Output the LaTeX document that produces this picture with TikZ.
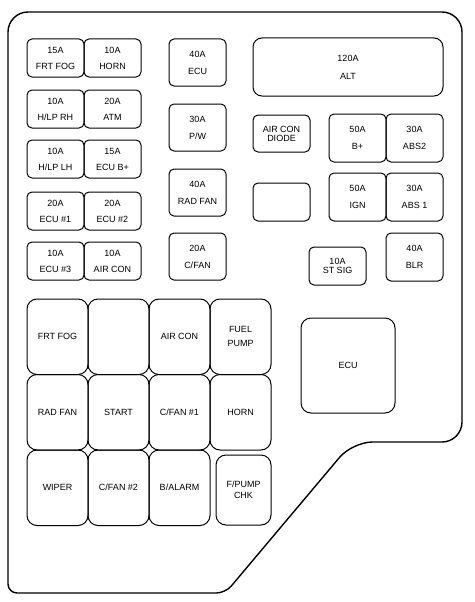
\documentclass[tikz,border=0pt]{standalone}
\usepackage{fontspec}
\setmainfont{Liberation Sans}
\tikzset{
	fuse/.style={draw, line width=1pt, rounded corners=5pt, minimum width=57pt, minimum height=38pt, inner sep=0pt, align=center, font=\fontsize{9}{16}\selectfont},
	tallfuse/.style={fuse, minimum height=47pt, font=\fontsize{9}{17}\selectfont},
	relay/.style={draw, line width=1pt, rounded corners=10pt, minimum width=61pt, minimum height=75.5pt, inner sep=0pt, align=center, font=\fontsize{9}{14}\selectfont},
	tighttext/.style={font=\fontsize{9}{9}\selectfont}
}

\begin{document}
\begin{tikzpicture}[x=1pt, y=-1pt]
			%%%%% START %%%%%
			\useasboundingbox (0,0) rectangle (474,602);
			
			% box outline
			\draw[line width=1.4pt, rounded corners=20pt] (8,300) -- (8,12) -- (462,12) -- (462,442) -- (352.5,442) [rounded corners=9pt] -- (225.4,593) -- (8,593) [rounded corners=20pt] -- cycle;
			
			% small fuses, left pairs
			\node[fuse] (frtfog) at (55.5,58) {15A\\FRT FOG};
			\node[fuse] (horn) at (112.5,58) {10A\\HORN};
			\node[fuse] (hlprh) at (55.5,109) {10A\\H/LP RH};
			\node[fuse] (atm) at (112.5,109) {20A\\ATM};
			\node[fuse] (hlplh) at (55.5,159) {10A\\H/LP LH};
			\node[fuse] (ecubplus) at (112.5,159) {15A\\ECU B+};
			\node[fuse] (ecuone) at (55.5,211) {20A\\ECU \#1};
			\node[fuse] (ecutwo) at (112.5,211) {20A\\ECU \#2};
			\node[fuse] (ecuthree) at (55.5,261) {10A\\ECU \#3};
			\node[fuse] (aircon) at (112.5,261) {10A\\AIR CON};
			
			% middle column
			\node[tallfuse] (ecu) at (197.5,62.5) {40A\\ECU};
			\node[tallfuse] (pw) at (197.5,127.5) {30A\\P/W};
			\node[tallfuse] (radfan) at (197.5,192.5) {40A\\RAD FAN};
			\node[tallfuse] (cfan) at (197.5,256.5) {20A\\C/FAN};
			
			% right side
			\node[fuse, minimum width=190pt, minimum height=58pt, rounded corners=9pt, font=\fontsize{9}{18}\selectfont] (alt) at (348,67) {120A\\ALT};
			\node[fuse, minimum height=37pt, tighttext] (diode) at (281.5,133.5) {AIR CON\\DIODE};
			\node[tallfuse, minimum height=48pt] (bplus) at (357.5,138) {50A\\B+};
			\node[tallfuse, minimum height=48pt] (abstwo) at (414.5,138) {30A\\ABS2};
			\node[fuse] (spare) at (281.5,202) {};
			\node[tallfuse, minimum height=48pt] (ign) at (357.5,197) {50A\\IGN};
			\node[tallfuse, minimum height=48pt] (absone) at (414.5,197) {30A\\ABS 1};
			\node[fuse, tighttext] (stsig) at (337.5,266) {10A\\ST SIG};
			\node[tallfuse, minimum height=48pt] (blr) at (414.5,257) {40A\\BLR};
			
			% relays
			\node[relay] (rfrtfog) at (57.5,336.75) {FRT FOG};
			\node[relay] (rblank) at (118.5,336.75) {};
			\node[relay] (raircon) at (179.5,336.75) {AIR CON};
			\node[relay] (rfuel) at (240.5,336.75) {FUEL\\PUMP};
			\node[relay] (rradfan) at (57.5,412.25) {RAD FAN};
			\node[relay] (rstart) at (118.5,412.25) {START};
			\node[relay] (rcfanone) at (179.5,412.25) {C/FAN \#1};
			\node[relay] (rhorn) at (240.5,412.25) {HORN};
			\node[relay] (rwiper) at (57.5,487.75) {WIPER};
			\node[relay] (rcfantwo) at (118.5,487.75) {C/FAN \#2};
			\node[relay] (rbalarm) at (179.5,487.75) {B/ALARM};
			\node[relay, minimum width=55pt, minimum height=70pt, font=\fontsize{9}{11}\selectfont] (rfpchk) at (243.5,490) {F/PUMP\\CHK};
			
			% ECU
			\node[relay, minimum width=94pt, minimum height=95pt] (ecubox) at (348,365.5) {ECU};
			
			%%%%% END %%%%%
\end{tikzpicture}
\end{document}
